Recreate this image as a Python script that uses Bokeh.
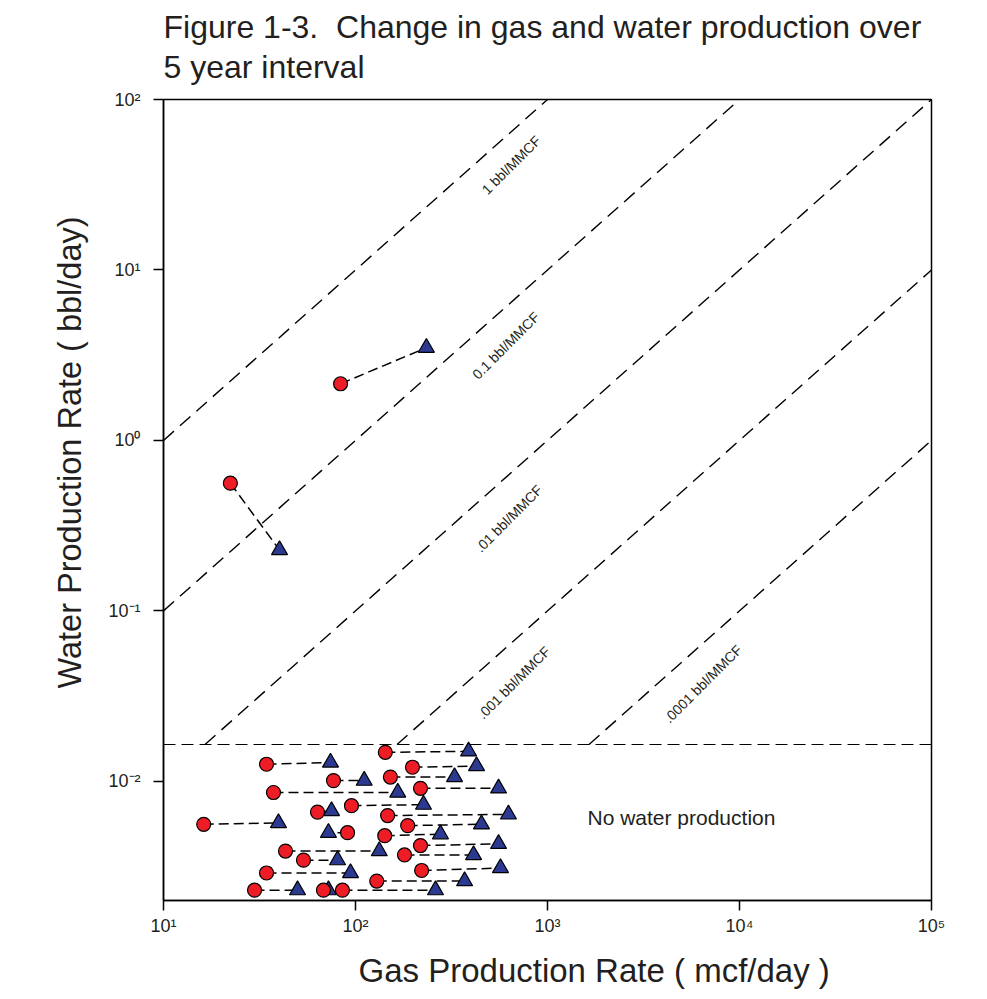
from bokeh.plotting import figure
from bokeh.models import Range1d, FixedTicker, CustomJSTickFormatter, Label, Title, Span, ColumnDataSource
from bokeh.embed import file_html
from bokeh.resources import INLINE
from bokeh.core.properties import value

# ---------------- data ----------------
# start of interval (red circles) and end of interval (blue triangles)
gas_start = [83.6, 22.3,
             143, 34.4, 198, 76.8, 152, 37.4, 218, 95.3, 63.4, 147, 16.2, 187,
             90.9, 142, 218, 43.2, 53.6, 180, 34.4, 221, 129, 29.8, 68.1, 85.5]
water_start = [2.15, 0.561,
               0.0148, 0.0126, 0.0121, 0.0101, 0.0106, 0.0086, 0.0091, 0.0072, 0.0066, 0.0063, 0.0056, 0.0055,
               0.0050, 0.0048, 0.0042, 0.0039, 0.00345, 0.0037, 0.0029, 0.0030, 0.0026, 0.0023, 0.0023, 0.0023]
gas_end = [234, 40.2,
           388, 74.1, 427, 111, 328, 166, 556, 226, 75.0, 626, 39.7, 453,
           72.3, 277, 556, 133, 80.6, 412, 94.2, 569, 370, 49.9, 72.3, 261]
water_end = [3.50, 0.2275,
             0.0150, 0.0129, 0.0123, 0.0101, 0.0106, 0.0086, 0.0091, 0.0073, 0.0067, 0.0064, 0.0057, 0.0056,
             0.0050, 0.0049, 0.0043, 0.0039, 0.00345, 0.0037, 0.0029, 0.0031, 0.0026, 0.0023, 0.0023, 0.0023]

ratio_labels = ["1 bbl/MMCF", "0.1 bbl/MMCF", ".01 bbl/MMCF", ".001 bbl/MMCF", ".0001 bbl/MMCF"]
ratio_divisors = [10, 100, 1000, 1e4, 1e5]
label_x = [647, 607, 628, 668, 6442]
label_y = [41.2, 3.60, 0.348, 0.0379, 0.0373]

no_water_level = 0.01645
x_ticks = [10, 100, 1000, 1e4, 1e5]
y_ticks = [0.01, 0.1, 1, 10, 100]
X_MIN, X_MAX = 10, 1e5
Y_MIN, Y_MAX = 0.002, 100

FONT = "Liberation Sans"
TXT = "#231f20"

W, H = 970, 999
p = figure(width=W, height=H, x_axis_type="log", y_axis_type="log",
           x_range=Range1d(X_MIN, X_MAX), y_range=Range1d(Y_MIN, Y_MAX),
           output_backend="svg", toolbar_location=None,
           min_border_left=163, min_border_right=39, min_border_top=99, min_border_bottom=97)

p.background_fill_color = "white"
p.border_fill_color = "white"
p.outline_line_color = "black"
p.outline_line_width = 1.5
p.outline_line_alpha = 1
p.xgrid.visible = False
p.ygrid.visible = False

# titles (first added is closest to the frame)
p.add_layout(Title(text="5 year interval", align="left", text_font=FONT, text_font_size="32px",
                   text_font_style="normal", text_color=TXT, standoff=30), "above")
p.add_layout(Title(text="Figure 1-3.\u00a0 Change in gas and water production over", align="left",
                   text_font=FONT, text_font_size="32px", text_font_style="normal",
                   text_color=TXT, standoff=-26), "above")

fmt = CustomJSTickFormatter(code="""
const sup = {'0':'\u2070','1':'\u00b9','2':'\u00b2','3':'\u00b3','4':'\u2074','5':'\u2075','6':'\u2076','7':'\u2077','8':'\u2078','9':'\u2079','-':'\u207b'};
const e = Math.round(Math.log10(tick)).toString();
return '10' + e.split('').map(c => sup[c]).join('');
""")

for ax, ticks in ((p.xaxis[0], x_ticks), (p.yaxis[0], y_ticks)):
    ax.ticker = FixedTicker(ticks=ticks, minor_ticks=[])
    ax.formatter = fmt
    ax.major_tick_out = 10
    ax.major_tick_in = 0
    ax.minor_tick_out = 0
    ax.minor_tick_in = 0
    ax.axis_line_width = 1.5
    ax.major_tick_line_width = 1.5
    ax.axis_line_color = "black"
    ax.major_label_text_font = FONT
    ax.major_label_text_font_size = "18px"
    ax.major_label_text_color = TXT

p.xaxis.major_label_standoff = 5
p.yaxis.major_label_standoff = 13

# axis titles, placed as titles in the border panels (offset from the frame's left / bottom edge)
p.add_layout(Title(text="Gas Production Rate ( mcf/day )", align="left", offset=195,
                   text_font=FONT, text_font_size="33px", text_font_style="normal",
                   text_color=TXT, standoff=22), "below")
p.add_layout(Title(text="Water Production Rate ( bbl/day)", align="left", offset=212,
                   text_font=FONT, text_font_size="32.5px", text_font_style="normal",
                   text_color=TXT, standoff=35), "left")

# constant-ratio lines (clipped at the "no water production" level)
xs, ys = [], []
for d in ratio_divisors:
    x0 = max(X_MIN, no_water_level * d)
    x1 = min(X_MAX, Y_MAX * d)
    xs.append([x0, x1])
    ys.append([x0 / d, x1 / d])
p.multi_line(xs, ys, line_color="black", line_width=1.4, line_dash="14 8")

p.add_layout(Span(location=no_water_level, dimension="width", line_color="black",
                  line_width=1.2, line_dash="12 6"))

src_lbl = ColumnDataSource(dict(x=label_x, y=label_y, t=ratio_labels))
p.text(x="x", y="y", text="t", source=src_lbl, angle=0.785, text_align="center",
       text_baseline="middle", text_font=value(FONT), text_font_size="14px", text_color=TXT)

p.add_layout(Label(x=1615, y=0.00615, text="No water production", text_font=FONT,
                   text_font_size="21px", text_color=TXT, text_baseline="middle", text_align="left"))

# connectors and markers
p.segment(gas_start, water_start, gas_end, water_end, line_color="black", line_width=1.5, line_dash="10 5")
p.scatter(gas_end, water_end, marker="triangle", size=16, fill_color="#2b3990",
          line_color="black", line_width=1.2)
p.scatter(gas_start, water_start, marker="circle", size=14, fill_color="#ee1c25",
          line_color="black", line_width=1.2)

open("out.html", "w").write(file_html(p, INLINE))
